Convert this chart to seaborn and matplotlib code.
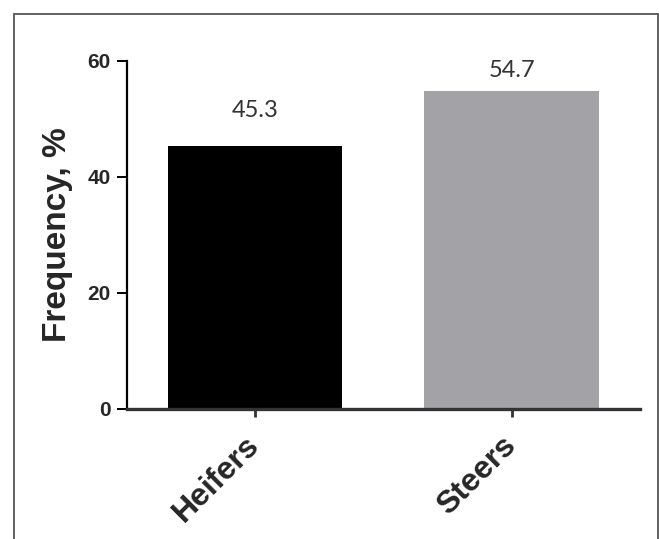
import matplotlib
matplotlib.use("Agg")
import matplotlib.pyplot as plt
from matplotlib.patches import Rectangle
import seaborn as sns

# data
groups = ["Heifers", "Steers"]
frequency = [45.3, 54.7]
bar_colors = ["#000000", "#a3a2a6"]
y_ticks = [0, 20, 40, 60]

sns.set_style("ticks")
plt.rcParams["font.family"] = ["Liberation Sans", "DejaVu Sans"]

W, H = 659, 539
fig = plt.figure(figsize=(W / 100, H / 100), dpi=100)
ax = fig.add_axes([126.7 / W, 1 - 409 / H, (640 - 126.7) / W, (409 - 60.7) / H])

sns.barplot(x=groups, y=frequency, hue=groups, palette=bar_colors,
            width=0.68, saturation=1, legend=False, linewidth=0, ax=ax)

ax.set_xlim(-0.5, 1.5)
ax.set_ylim(0, 60)
ax.set_yticks(y_ticks)
sns.despine(ax=ax)
ax.spines["left"].set_linewidth(1.6)
ax.spines["left"].set_color("#000000")
ax.spines["bottom"].set_linewidth(2.4)
ax.spines["bottom"].set_color("#333333")

ax.tick_params(axis="y", length=7.5, width=1.4, pad=4, labelsize=15,
               color="#000000")
ax.tick_params(axis="x", length=6, width=2, pad=17, color="#333333")
for lab in ax.get_yticklabels():
    lab.set_fontweight("bold")
ax.set_xticks(range(len(groups)))
ax.set_xticklabels(groups, rotation=45, ha="right", va="center",
                   rotation_mode="anchor", fontsize=23, fontweight="bold")

ax.set_xlabel("")
ax.set_ylabel("Frequency, %", fontsize=24, fontweight="bold")
ax.yaxis.set_label_coords(-0.105, 0.5)

# value labels above the bars
label_gap_px = [29, 14]
for i, (v, gap) in enumerate(zip(frequency, label_gap_px)):
    ax.annotate(f"{v:.1f}", xy=(i, v), xytext=(0, gap),
                textcoords="offset pixels", ha="center", va="baseline",
                fontsize=17, color="#333333", family=["Lato", "DejaVu Sans"])

# outer frame (open at the bottom)
fig.patches.append(Rectangle((14 / W, -0.1), (657.7 - 14) / W,
                             1.1 - 13.7 / H,
                             transform=fig.transFigure, fill=False,
                             edgecolor="#555555", linewidth=1.3))

fig.savefig("out.png", dpi=100)
